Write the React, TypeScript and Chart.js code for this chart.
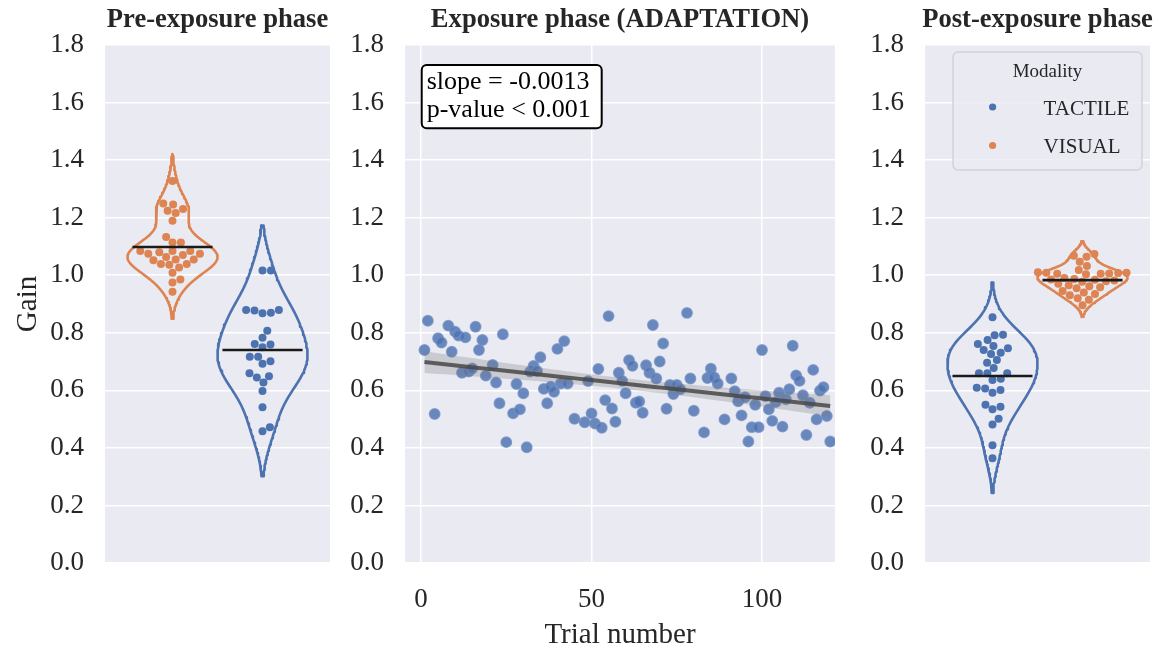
import React, { useEffect, useRef } from "react";
import { Chart, registerables } from "chart.js";
Chart.register(...registerables);

// ---------------- data ----------------
const modalities = ["TACTILE", "VISUAL"];
const yTicks = [0, 0.2, 0.4, 0.6, 0.8, 1.0, 1.2, 1.4, 1.6, 1.8];
const xTrialTicks = [0, 50, 100];

const preVisual = [
  1.327, 1.246, 1.249, 1.23, 1.216, 1.224, 1.189, 1.133, 1.114, 1.114,
  1.08, 1.084, 1.07, 1.084, 1.075, 1.075, 1.084, 1.055, 1.055, 1.063,
  1.052, 1.039, 1.027, 1.036, 1.039, 1.009, 0.985, 0.975, 0.943,
];
const preTactile = [
  1.016, 1.016, 0.879, 0.87, 0.868, 0.877, 0.879, 0.807, 0.783, 0.759,
  0.75, 0.761, 0.717, 0.717, 0.701, 0.692, 0.645, 0.649, 0.659, 0.627,
  0.598, 0.541, 0.472, 0.458,
];
const postTactile = [
  0.854, 0.793, 0.791, 0.761, 0.775, 0.74, 0.754, 0.746, 0.726, 0.731,
  0.696, 0.705, 0.678, 0.659, 0.659, 0.659, 0.64, 0.636, 0.601, 0.592,
  0.606, 0.609, 0.543, 0.534, 0.55, 0.501, 0.481, 0.409, 0.364,
];
const postVisual = [
  1.074, 1.064, 1.068, 1.047, 1.032, 1.018, 1.009, 1.009, 1.005, 1.005,
  1.003, 1.008, 1.006, 1.01, 0.99, 0.987, 0.985, 0.984, 0.982, 0.979,
  0.977, 0.97, 0.965, 0.962, 0.958, 0.955, 0.945, 0.94, 0.935, 0.93,
  0.92, 0.915, 0.896,
];
// horizontal summary lines drawn on each violin
const preLines = [1.098, 0.74]; // VISUAL, TACTILE
const postLines = [0.65, 0.983]; // TACTILE, VISUAL

const trialNumbers = [
  1, 2, 4, 5, 6, 8, 9, 10, 11, 12, 13, 14, 15, 16, 17, 18, 19, 21, 22, 23,
  24, 25, 27, 28, 29, 30, 31, 32, 33, 34, 35, 36, 37, 38, 39, 40, 41, 42, 43, 45,
  48, 49, 50, 51, 52, 53, 54, 55, 56, 57, 58, 59, 60, 61, 62, 63, 64, 65, 66, 67,
  68, 69, 70, 71, 72, 73, 74, 75, 76, 78, 79, 80, 83, 84, 85, 86, 87, 89, 91, 92,
  93, 94, 95, 96, 97, 98, 99, 100, 101, 102, 103, 104, 105, 106, 107, 108, 109, 110, 111, 112,
  113, 114, 115, 116, 117, 118, 119, 120,
];
const trialGains = [
  0.74, 0.842, 0.518, 0.781, 0.766, 0.825, 0.734, 0.804, 0.79, 0.661, 0.784, 0.665, 0.676, 0.821, 0.74, 0.775, 0.651, 0.688, 0.627, 0.555,
  0.795, 0.42, 0.52, 0.622, 0.534, 0.59, 0.402, 0.665, 0.685, 0.667, 0.715, 0.605, 0.555, 0.613, 0.595, 0.744, 0.624, 0.771, 0.624, 0.501,
  0.489, 0.632, 0.52, 0.485, 0.674, 0.47, 0.566, 0.858, 0.537, 0.491, 0.661, 0.633, 0.59, 0.705, 0.685, 0.557, 0.561, 0.522, 0.687, 0.661,
  0.827, 0.641, 0.7, 0.763, 0.536, 0.619, 0.587, 0.619, 0.604, 0.869, 0.641, 0.529, 0.454, 0.643, 0.675, 0.645, 0.624, 0.499, 0.641, 0.597,
  0.562, 0.513, 0.576, 0.422, 0.472, 0.55, 0.472, 0.74, 0.58, 0.534, 0.494, 0.559, 0.592, 0.474, 0.569, 0.604, 0.755, 0.652, 0.633, 0.583,
  0.445, 0.557, 0.671, 0.499, 0.599, 0.611, 0.511, 0.422,
];
const annotationLines = ["slope = -0.0013", "p-value < 0.001"];

// ---------------- style ----------------
const BLUE = "#4C72B0";
const ORANGE = "#DD8452";
const BG = "#EAEAF2";
const TEXT = "#262626";
const FONT = "'Liberation Serif', 'Times New Roman', serif";
const TOP = 45;
const BOTTOM_SPACE = 85;
const TICK_SIZE = 27;

function mean(a: number[]) {
  return a.reduce((s, v) => s + v, 0) / a.length;
}

function violinOutline(values: number[], center: number, halfWidth: number) {
  const n = values.length;
  const m = mean(values);
  const sd = Math.sqrt(values.reduce((s, v) => s + (v - m) ** 2, 0) / (n - 1));
  const bw = Math.pow(n, -0.2) * sd;
  const lo = Math.min(...values) - 2 * bw;
  const hi = Math.max(...values) + 2 * bw;
  const G = 120;
  const ys: number[] = [];
  const ds: number[] = [];
  for (let i = 0; i < G; i++) {
    const y = lo + ((hi - lo) * i) / (G - 1);
    let d = 0;
    for (const v of values) d += Math.exp(-0.5 * ((y - v) / bw) ** 2);
    ys.push(y);
    ds.push(d);
  }
  const mx = Math.max(...ds);
  const right = ys.map((y, i) => ({ x: center + (halfWidth * ds[i]) / mx, y }));
  const left = ys.map((y, i) => ({ x: center - (halfWidth * ds[i]) / mx, y })).reverse();
  return [...right, ...left, right[0]];
}

function layoutSwarm(chart: any, specs: { ds: number; center: number; values: number[] }[], d: number) {
  const xs = chart.scales.x;
  const ys = chart.scales.y;
  for (const s of specs) {
    const cpx = xs.getPixelForValue(s.center);
    const order = s.values.map((_, i) => i).sort((a, b) => s.values[a] - s.values[b]);
    const placed: { x: number; y: number }[] = [];
    const out: any[] = new Array(s.values.length);
    for (const i of order) {
      const py = ys.getPixelForValue(s.values[i]);
      const nb = placed.filter((q) => Math.abs(q.y - py) < d);
      const cands = [0];
      for (const q of nb) {
        const dy = py - q.y;
        const dx = Math.sqrt(Math.max(d * d - dy * dy, 0));
        cands.push(q.x + dx, q.x - dx);
      }
      cands.sort((a, b) => Math.abs(a) - Math.abs(b));
      let chosen = cands[cands.length - 1];
      for (const c of cands) {
        if (nb.every((q) => (c - q.x) ** 2 + (py - q.y) ** 2 >= d * d - 0.01)) {
          chosen = c;
          break;
        }
      }
      placed.push({ x: chosen, y: py });
      out[i] = { x: xs.getValueForPixel(cpx + chosen), y: s.values[i] };
    }
    chart.data.datasets[s.ds].data = out;
  }
  chart.update();
}

const bgPlugin = {
  id: "panelBg",
  beforeDraw(chart: any) {
    const { ctx, chartArea: a } = chart;
    ctx.save();
    ctx.fillStyle = BG;
    ctx.fillRect(a.left, a.top, a.right - a.left, a.bottom - a.top);
    ctx.restore();
  },
};

function titlePlugin(text: string) {
  return {
    id: "panelTitle",
    afterDraw(chart: any) {
      const { ctx, chartArea: a } = chart;
      ctx.save();
      ctx.font = `bold 26.6px ${FONT}`;
      ctx.fillStyle = TEXT;
      ctx.textAlign = "center";
      ctx.textBaseline = "middle";
      ctx.fillText(text, (a.left + a.right) / 2, 20);
      ctx.restore();
    },
  };
}

function roundRect(ctx: any, x: number, y: number, w: number, h: number, r: number) {
  ctx.beginPath();
  ctx.moveTo(x + r, y);
  ctx.lineTo(x + w - r, y);
  ctx.arcTo(x + w, y, x + w, y + r, r);
  ctx.lineTo(x + w, y + h - r);
  ctx.arcTo(x + w, y + h, x + w - r, y + h, r);
  ctx.lineTo(x + r, y + h);
  ctx.arcTo(x, y + h, x, y + h - r, r);
  ctx.lineTo(x, y + r);
  ctx.arcTo(x, y, x + r, y, r);
  ctx.closePath();
}

const legendPlugin = {
  id: "modalityLegend",
  afterDraw(chart: any) {
    const { ctx, chartArea: a } = chart;
    const x0 = a.left + 28;
    const y0 = a.top + 7;
    const w = 189;
    const h = 118;
    ctx.save();
    roundRect(ctx, x0, y0, w, h, 5);
    ctx.fillStyle = "rgba(234,234,242,0.8)";
    ctx.fill();
    ctx.strokeStyle = "#d2d2d8";
    ctx.lineWidth = 1.5;
    ctx.stroke();
    ctx.fillStyle = TEXT;
    ctx.textBaseline = "middle";
    ctx.textAlign = "center";
    ctx.font = `19px ${FONT}`;
    ctx.fillText("Modality", x0 + w / 2, y0 + 20);
    const colors = [BLUE, ORANGE];
    const rows = [55, 93.5];
    modalities.forEach((m, i) => {
      ctx.beginPath();
      ctx.fillStyle = colors[i];
      ctx.arc(x0 + 39.6, y0 + rows[i], 3.6, 0, Math.PI * 2);
      ctx.fill();
      ctx.fillStyle = TEXT;
      ctx.textAlign = "left";
      ctx.font = `21px ${FONT}`;
      ctx.fillText(m, x0 + 90.6, y0 + rows[i] + 2.3);
    });
    ctx.restore();
  },
};

const annotationPlugin = {
  id: "fitAnnotation",
  afterDraw(chart: any) {
    const { ctx, chartArea: a } = chart;
    const bx = a.left + 16.7;
    const by = a.top + 20;
    const bw = 180;
    const bh = 63.3;
    ctx.save();
    roundRect(ctx, bx, by, bw, bh, 5);
    ctx.fillStyle = "#ffffff";
    ctx.fill();
    ctx.strokeStyle = "#000000";
    ctx.lineWidth = 2;
    ctx.stroke();
    ctx.fillStyle = "#000000";
    ctx.font = `26px ${FONT}`;
    ctx.textAlign = "left";
    ctx.textBaseline = "middle";
    ctx.fillText(annotationLines[0], bx + 5, by + 16.7);
    ctx.fillText(annotationLines[1], bx + 5, by + 45);
    ctx.restore();
  },
};

function yScale(width: number, title?: string) {
  return {
    type: "linear",
    min: 0,
    max: 1.8,
    afterFit: (s: any) => {
      s.width = width;
    },
    afterBuildTicks: (s: any) => {
      s.ticks = yTicks.map((v) => ({ value: v }));
    },
    ticks: {
      color: TEXT,
      font: { family: FONT, size: TICK_SIZE },
      padding: 21,
      callback: (v: any) => Number(v).toFixed(1),
    },
    grid: { color: "#ffffff", lineWidth: 1.5, drawTicks: false },
    border: { display: false },
    title: title
      ? {
          display: true,
          text: title,
          color: TEXT,
          font: { family: FONT, size: 29, lineHeight: "28px" },
          padding: { top: 14, bottom: 0 },
        }
      : { display: false },
  };
}

type Group = { values: number[]; center: number; color: string; line: number };

function makeViolinPanel(
  canvas: HTMLCanvasElement,
  title: string,
  groups: Group[],
  yAxisWidth: number,
  padRight: number,
  yTitle: string | undefined,
  extraPlugins: any[]
) {
  const datasets: any[] = [];
  groups.forEach((g) => {
    datasets.push({
      data: violinOutline(g.values, g.center, 0.2),
      showLine: true,
      borderColor: g.color,
      borderWidth: 2.6,
      pointRadius: 0,
      fill: false,
      tension: 0,
      borderJoinStyle: "round",
      order: 3,
    });
  });
  const swarmStart = datasets.length;
  groups.forEach((g) => {
    datasets.push({
      data: g.values.map((v) => ({ x: g.center, y: v })),
      backgroundColor: g.color,
      borderWidth: 0,
      pointRadius: 4,
      showLine: false,
      order: 2,
    });
  });
  groups.forEach((g) => {
    datasets.push({
      data: [
        { x: g.center - 0.178, y: g.line },
        { x: g.center + 0.178, y: g.line },
      ],
      showLine: true,
      borderColor: "#1a1a1a",
      borderWidth: 2.6,
      pointRadius: 0,
      fill: false,
      order: 1,
    });
  });
  const chart: any = new Chart(canvas, {
    type: "scatter",
    data: { datasets },
    options: {
      animation: false,
      responsive: false,
      layout: { padding: { top: TOP, bottom: BOTTOM_SPACE, left: 0, right: padRight } },
      plugins: { legend: { display: false }, tooltip: { enabled: false } },
      scales: {
        x: { type: "linear", min: -0.5, max: 0.5, display: false },
        y: yScale(yAxisWidth, yTitle) as any,
      },
    },
    plugins: [bgPlugin, titlePlugin(title), ...extraPlugins],
  } as any);
  layoutSwarm(
    chart,
    groups.map((g, i) => ({ ds: swarmStart + i, center: g.center, values: g.values })),
    8.4
  );
  return chart;
}

function makeTrialPanel(canvas: HTMLCanvasElement) {
  const n = trialNumbers.length;
  const mx = mean(trialNumbers);
  const my = mean(trialGains);
  let sxx = 0;
  let sxy = 0;
  for (let i = 0; i < n; i++) {
    sxx += (trialNumbers[i] - mx) ** 2;
    sxy += (trialNumbers[i] - mx) * (trialGains[i] - my);
  }
  const slope = sxy / sxx;
  const intercept = my - slope * mx;
  let sse = 0;
  for (let i = 0; i < n; i++) sse += (trialGains[i] - (intercept + slope * trialNumbers[i])) ** 2;
  const s = Math.sqrt(sse / (n - 2));
  const xmin = Math.min(...trialNumbers);
  const xmax = Math.max(...trialNumbers);
  const upper: any[] = [];
  const lower: any[] = [];
  const fit: any[] = [];
  for (let k = 0; k <= 60; k++) {
    const x = xmin + ((xmax - xmin) * k) / 60;
    const yh = intercept + slope * x;
    const se = s * Math.sqrt(1 / n + (x - mx) ** 2 / sxx);
    upper.push({ x, y: yh + 1.98 * se });
    lower.push({ x, y: yh - 1.98 * se });
    fit.push({ x, y: yh });
  }
  return new Chart(canvas, {
    type: "scatter",
    data: {
      datasets: [
        {
          data: fit,
          showLine: true,
          borderColor: "rgba(72,72,72,0.85)",
          borderWidth: 4,
          pointRadius: 0,
          fill: false,
          order: 0,
        },
        {
          data: upper,
          showLine: true,
          borderWidth: 0,
          borderColor: "rgba(0,0,0,0)",
          backgroundColor: "rgba(120,120,125,0.28)",
          pointRadius: 0,
          fill: "+1",
          order: 1,
        },
        {
          data: lower,
          showLine: true,
          borderWidth: 0,
          borderColor: "rgba(0,0,0,0)",
          pointRadius: 0,
          fill: false,
          order: 1,
        },
        {
          data: trialNumbers.map((t, i) => ({ x: t, y: trialGains[i] })),
          backgroundColor: "rgba(76,114,176,0.82)",
          borderColor: "rgba(110,140,195,0.75)",
          borderWidth: 1.5,
          pointRadius: 5.2,
          order: 2,
        },
      ],
    },
    options: {
      animation: false,
      responsive: false,
      layout: { padding: { top: TOP, bottom: 0, left: 0, right: 10 } },
      plugins: { legend: { display: false }, tooltip: { enabled: false } },
      scales: {
        x: {
          type: "linear",
          min: -4.7,
          max: 121.4,
          afterFit: (sc: any) => {
            sc.height = BOTTOM_SPACE;
          },
          afterBuildTicks: (sc: any) => {
            sc.ticks = xTrialTicks.map((v) => ({ value: v }));
          },
          ticks: {
            color: TEXT,
            font: { family: FONT, size: TICK_SIZE },
            padding: 21,
            maxRotation: 0,
            callback: (v: any) => String(v),
          },
          grid: { color: "#ffffff", lineWidth: 1.5, drawTicks: false },
          border: { display: false },
          title: {
            display: true,
            text: "Trial number",
            color: TEXT,
            font: { family: FONT, size: 29, lineHeight: "26px" },
            padding: { top: 0, bottom: 0 },
          },
        },
        y: yScale(60) as any,
      },
    },
    plugins: [bgPlugin, titlePlugin("Exposure phase (ADAPTATION)"), annotationPlugin],
  } as any);
}

export default function App() {
  const leftRef = useRef<HTMLCanvasElement>(null);
  const midRef = useRef<HTMLCanvasElement>(null);
  const rightRef = useRef<HTMLCanvasElement>(null);

  useEffect(() => {
    const charts: any[] = [];
    charts.push(
      makeViolinPanel(
        leftRef.current!,
        "Pre-exposure phase",
        [
          { values: preVisual, center: -0.2, color: ORANGE, line: preLines[0] },
          { values: preTactile, center: 0.2, color: BLUE, line: preLines[1] },
        ],
        105,
        15,
        "Gain",
        []
      )
    );
    charts.push(makeTrialPanel(midRef.current!));
    charts.push(
      makeViolinPanel(
        rightRef.current!,
        "Post-exposure phase",
        [
          { values: postTactile, center: -0.2, color: BLUE, line: postLines[0] },
          { values: postVisual, center: 0.2, color: ORANGE, line: postLines[1] },
        ],
        80,
        7,
        undefined,
        [legendPlugin]
      )
    );
    return () => charts.forEach((c) => c.destroy());
  }, []);

  const cv = (left: number, width: number) => ({
    position: "absolute" as const,
    left,
    top: 0,
    width,
    height: 648,
  });

  return (
    <div style={{ position: "fixed", left: 0, top: 0, width: 1157, height: 648, background: "#ffffff" }}>
      <canvas ref={leftRef} width={345} height={648} style={cv(0, 345)} />
      <canvas ref={midRef} width={500} height={648} style={cv(345, 500)} />
      <canvas ref={rightRef} width={312} height={648} style={cv(845, 312)} />
    </div>
  );
}
